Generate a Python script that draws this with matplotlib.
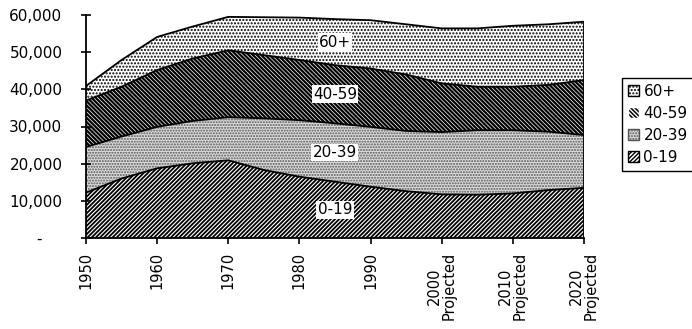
import numpy as np
import matplotlib
matplotlib.use('Agg')
from matplotlib import pyplot as plt
from matplotlib.patches import Patch

# populacao por grupo etario (milhares), de 5 em 5 anos
anos = [1950, 1955, 1960, 1965, 1970, 1975, 1980, 1985, 1990, 1995, 2000, 2005, 2010, 2015, 2020]
idade_0_19 = [12200, 16000, 18750, 20100, 20900, 18300, 16500, 15150, 13800, 12600, 11750, 11650, 12000, 12900, 13500]
idade_20_39 = [12300, 11300, 11150, 11400, 11600, 13900, 15200, 15700, 16100, 16200, 16750, 17350, 17000, 15700, 14200]
idade_40_59 = [12500, 13400, 15300, 16800, 18000, 17000, 16200, 15650, 15700, 15200, 13100, 11700, 11700, 12600, 14800]
idade_60_mais = [3900, 7200, 8900, 8600, 9000, 10200, 11400, 12400, 13000, 13500, 14800, 15700, 16400, 16300, 15700]

grupos = ['0-19', '20-39', '40-59', '60+']
anos_marcas = [1950, 1960, 1970, 1980, 1990, 2000, 2010, 2020]
rotulos_x = ['1950', '1960', '1970', '1980', '1990',
             '2000\nProjected', '2010\nProjected', '2020\nProjected']
valores_y = [0, 10000, 20000, 30000, 40000, 50000, 60000]
rotulos_y = ['-    ', '10,000', '20,000', '30,000', '40,000', '50,000', '60,000']
ano_rotulo = 1985

estilos = [
    {'facecolor': 'white', 'edgecolor': 'black', 'hatch': '////////'},
    {'facecolor': '#dcdcdc', 'edgecolor': '#555555', 'hatch': '......'},
    {'facecolor': 'black', 'edgecolor': 'white', 'hatch': '\\' * 8},
    {'facecolor': 'white', 'edgecolor': 'black', 'hatch': '.....'},
]
espessura_trama = [1.3, 1.0, 0.5, 1.0]

fig = plt.figure(figsize=(6.92, 3.29), dpi=100)
ax = fig.add_axes([86 / 692, 1 - 238 / 329, (584 - 86) / 692, (238 - 15) / 329])

series = [idade_0_19, idade_20_39, idade_40_59, idade_60_mais]
base = np.zeros(len(anos))
i_rot = anos.index(ano_rotulo)
for nome, valores, estilo, esp in zip(grupos, series, estilos, espessura_trama):
    topo = base + np.array(valores)
    with plt.rc_context({'hatch.linewidth': esp}):
        ax.fill_between(anos, base, topo, linewidth=0, **estilo)
    ax.plot(anos, topo, color='black', linewidth=1.3)
    ax.text(ano_rotulo, (base[i_rot] + topo[i_rot]) / 2, nome, fontsize=11,
            ha='center', va='center',
            bbox=dict(facecolor='white', edgecolor='none', pad=1.0))
    base = topo
ax.plot([anos[-1], anos[-1]], [0, base[-1]], color='black', linewidth=1.3)

ax.set_xlim(1950, 2020)
ax.set_ylim(0, 60000)
ax.spines['top'].set_visible(False)
ax.spines['right'].set_visible(False)
ax.spines['left'].set_linewidth(1.3)
ax.spines['bottom'].set_linewidth(1.3)

ax.set_yticks(valores_y)
ax.set_yticklabels(rotulos_y, fontsize=11)
ax.tick_params(axis='y', direction='inout', length=7, width=1.2, pad=13.5)

ax.set_xticks(anos_marcas)
ax.set_xticklabels(rotulos_x, rotation=90, fontsize=10.5, va='top', ha='center',
                   multialignment='center', linespacing=1.0)
ax.tick_params(axis='x', direction='out', length=4, width=1.2, pad=6)

alcas = []
for k in range(3, -1, -1):
    with plt.rc_context({'hatch.linewidth': espessura_trama[k]}):
        alcas.append(Patch(**estilos[k]))
nomes = [grupos[k] for k in range(3, -1, -1)]
leg = fig.legend(alcas, nomes, loc='upper left', bbox_to_anchor=(622 / 692, 1 - 78 / 329),
                 fontsize=11, frameon=True, fancybox=False, framealpha=1,
                 edgecolor='black', handlelength=0.7, handleheight=0.7,
                 handletextpad=0.3, labelspacing=0.45, borderpad=0.4,
                 borderaxespad=0)
leg.get_frame().set_linewidth(1.0)

fig.savefig('out.png', dpi=100)
